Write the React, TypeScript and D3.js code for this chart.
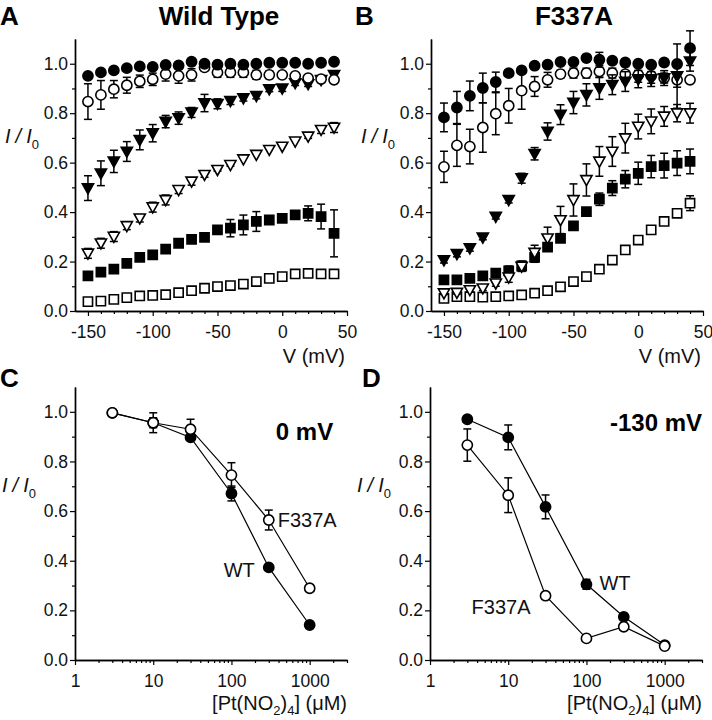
import React, { useEffect, useRef } from 'react'
import * as d3 from 'd3'

const FONT = "'Liberation Sans', Arial, Helvetica, sans-serif"

// membrane potentials (mV) for panels A and B
const voltages = [-150, -140, -130, -120, -110, -100, -90, -80, -70, -60, -50, -40, -30, -20, -10, 0, 10, 20, 30, 40]

// Panel A, wild type
const wtFilledCircle = [0.951, 0.965, 0.973, 0.982, 0.989, 0.987, 0.995, 0.993, 1.008, 1.0, 0.996, 1.0, 0.996, 1.0, 1.004, 1.004, 1.004, 1.0, 1.004, 1.008]
const wtFilledCircleErr = [0.008, 0.008, 0.008, 0.008, 0.008, 0.008, 0.008, 0.008, 0.01, 0.008, 0.006, 0.006, 0.006, 0.006, 0.006, 0.006, 0.006, 0.006, 0.006, 0.006]
const wtOpenCircle = [0.847, 0.874, 0.897, 0.913, 0.929, 0.937, 0.958, 0.951, 0.955, 0.985, 0.965, 0.965, 0.965, 0.955, 0.955, 0.955, 0.951, 0.942, 0.938, 0.935]
const wtOpenCircleErr = [0.072, 0.058, 0.035, 0.032, 0.025, 0.025, 0.028, 0.03, 0.025, 0.012, 0.02, 0.02, 0.02, 0.018, 0.015, 0.012, 0.012, 0.01, 0.01, 0.01]
const wtFilledTri = [0.497, 0.557, 0.605, 0.645, 0.692, 0.719, 0.766, 0.78, 0.803, 0.841, 0.838, 0.85, 0.861, 0.87, 0.897, 0.9, 0.922, 0.918, 0.935, 0.955]
const wtFilledTriErr = [0.05, 0.05, 0.045, 0.04, 0.04, 0.035, 0.025, 0.025, 0.02, 0.035, 0.02, 0.015, 0.012, 0.012, 0.01, 0.012, 0.01, 0.01, 0.01, 0.012]
const wtOpenTri = [0.233, 0.274, 0.301, 0.344, 0.375, 0.42, 0.449, 0.49, 0.524, 0.551, 0.571, 0.591, 0.614, 0.632, 0.652, 0.665, 0.686, 0.706, 0.733, 0.742]
const wtOpenTriErr = [0.02, 0.02, 0.02, 0.015, 0.015, 0.02, 0.02, 0.015, 0.015, 0.01, 0.005, 0.005, 0, 0, 0, 0, 0, 0.008, 0.015, 0.02]
const wtFilledSq = [0.142, 0.157, 0.169, 0.193, 0.217, 0.227, 0.25, 0.274, 0.29, 0.298, 0.328, 0.335, 0.348, 0.362, 0.368, 0.375, 0.389, 0.395, 0.382, 0.314]
const wtFilledSqErr = [0, 0, 0, 0, 0, 0, 0, 0, 0, 0, 0, 0.035, 0.04, 0.04, 0, 0, 0, 0.03, 0.05, 0.095]
const wtOpenSq = [0.038, 0.04, 0.047, 0.054, 0.061, 0.063, 0.066, 0.074, 0.082, 0.092, 0.099, 0.103, 0.109, 0.119, 0.132, 0.139, 0.15, 0.152, 0.15, 0.15]
const wtOpenSqErr = [0, 0, 0, 0, 0, 0, 0, 0, 0, 0, 0, 0, 0, 0, 0, 0, 0, 0, 0, 0]

// Panel B, F337A
const mutFilledCircle = [0.783, 0.823, 0.87, 0.902, 0.926, 0.962, 0.973, 0.992, 0.996, 1.007, 1.007, 1.023, 1.016, 1.012, 1.005, 1.0, 0.996, 1.005, 0.999, 1.063]
const mutFilledCircleErr = [0.058, 0.065, 0.06, 0.06, 0.04, 0.012, 0.012, 0.008, 0.008, 0.008, 0.008, 0.012, 0.03, 0.012, 0.008, 0.008, 0.008, 0.008, 0.008, 0.07]
const mutOpenCircle = [0.583, 0.67, 0.665, 0.742, 0.798, 0.83, 0.891, 0.908, 0.935, 0.958, 0.962, 0.962, 0.969, 0.962, 0.958, 0.955, 0.951, 0.942, 0.935, 0.935]
const mutOpenCircleErr = [0.063, 0.085, 0.07, 0.1, 0.085, 0.07, 0.075, 0.04, 0.03, 0.015, 0.02, 0.02, 0.025, 0.02, 0.03, 0.03, 0.03, 0.03, 0.03, 0.01]
const mutFilledTri = [0.206, 0.231, 0.254, 0.298, 0.382, 0.449, 0.537, 0.636, 0.726, 0.794, 0.843, 0.874, 0.901, 0.915, 0.928, 0.938, 0.938, 0.942, 0.95, 1.01]
const mutFilledTriErr = [0.012, 0.012, 0.012, 0.01, 0.01, 0.012, 0.02, 0.025, 0.035, 0.04, 0.045, 0.045, 0.045, 0.04, 0.04, 0.035, 0.03, 0.02, 0.13, 0.04]
const mutOpenTri = [0.072, 0.074, 0.085, 0.092, 0.112, 0.136, 0.18, 0.236, 0.294, 0.368, 0.449, 0.53, 0.605, 0.645, 0.699, 0.746, 0.767, 0.787, 0.8, 0.8]
const mutOpenTriErr = [0.005, 0.005, 0.008, 0.01, 0.012, 0.02, 0.02, 0.03, 0.045, 0.055, 0.065, 0.065, 0.06, 0.06, 0.06, 0.05, 0.05, 0.04, 0.035, 0.04]
const mutFilledSq = [0.126, 0.126, 0.132, 0.142, 0.153, 0.162, 0.182, 0.217, 0.258, 0.294, 0.344, 0.402, 0.452, 0.497, 0.533, 0.557, 0.584, 0.588, 0.598, 0.605]
const mutFilledSqErr = [0, 0, 0, 0, 0.015, 0.02, 0.02, 0.02, 0.015, 0.008, 0.008, 0.015, 0.025, 0.03, 0.035, 0.045, 0.045, 0.05, 0.05, 0.05]
const mutOpenSq = [0.051, 0.058, 0.058, 0.056, 0.058, 0.061, 0.065, 0.072, 0.082, 0.098, 0.119, 0.139, 0.169, 0.206, 0.247, 0.287, 0.328, 0.362, 0.395, 0.436]
const mutOpenSqErr = [0, 0, 0, 0, 0, 0, 0, 0, 0, 0, 0, 0, 0, 0, 0, 0, 0, 0, 0, 0.03]

// Panels C and D: [Pt(NO2)4] in uM
const doses = [3, 10, 30, 100, 300, 1000]
const wt0mV = [0.996, 0.956, 0.897, 0.671, 0.373, 0.141]
const wt0mVErr = [0.01, 0.02, 0.01, 0.03, 0.01, 0.01]
const mut0mV = [0.996, 0.956, 0.93, 0.745, 0.564, 0.289]
const mut0mVErr = [0.01, 0.04, 0.04, 0.05, 0.04, 0.01]
const wt130mV = [0.97, 0.897, 0.617, 0.305, 0.174, 0.06]
const wt130mVErr = [0.01, 0.05, 0.048, 0.02, 0.01, 0.01]
const mut130mV = [0.866, 0.664, 0.259, 0.087, 0.134, 0.056]
const mut130mVErr = [0.065, 0.07, 0.01, 0.01, 0.01, 0.01]

type Shape = 'circle' | 'square' | 'triangle'
type Series = { values: number[]; errors: number[]; shape: Shape; filled: boolean }

const circlePath = d3.symbol(d3.symbolCircle, Math.PI * 26)()
const squarePath = d3.symbol(d3.symbolSquare, 84)()
const trianglePath = 'M-5.6,-4.3L5.6,-4.3L0,5.7Z'
const shapePath = (s: Shape) => (s === 'circle' ? circlePath : s === 'square' ? squarePath : trianglePath)

const yTicks = [0, 0.2, 0.4, 0.6, 0.8, 1.0]
const yMinor = [0.1, 0.3, 0.5, 0.7, 0.9]
const vTicks = [-150, -100, -50, 0, 50]
const vMinor = d3.range(-140, 50, 10).filter(v => v % 50 !== 0)
const logTicks = [1, 10, 100, 1000]
const logMinor = [1, 10, 100].flatMap(d => d3.range(2, 10).map(m => m * d)).concat([2000, 3000])

// plain hyphen for negatives, as in the figure
const intFmt = (d: any) => String(d)

function styleAxis(g: any) {
  g.select('.domain').attr('stroke', '#000').attr('stroke-width', 1.4)
  g.selectAll('.tick line').attr('stroke', '#000').attr('stroke-width', 1.2)
  g.selectAll('.tick text').attr('font-family', FONT).attr('font-size', 17.5).attr('fill', '#111')
}

function Frame({ x, y, major, minor, fmt }: any) {
  const gx = useRef<SVGGElement>(null)
  const gy = useRef<SVGGElement>(null)
  useEffect(() => {
    const ax = d3.select(gx.current)
    ax.selectAll('*').remove()
    ax.append('g').call(d3.axisBottom(x).tickValues(minor).tickSize(3).tickSizeOuter(0).tickFormat(() => '')).call(styleAxis)
    ax.append('g').call(d3.axisBottom(x).tickValues(major).tickSize(5).tickPadding(10).tickSizeOuter(0).tickFormat(fmt)).call(styleAxis)
    const ay = d3.select(gy.current)
    ay.selectAll('*').remove()
    ay.append('g').call(d3.axisLeft(y).tickValues(yMinor).tickSize(3).tickSizeOuter(0).tickFormat(() => '')).call(styleAxis)
    ay.append('g').call(d3.axisLeft(y).tickValues(yTicks).tickSize(5).tickPadding(2).tickSizeOuter(0).tickFormat(d3.format('.1f'))).call(styleAxis)
  }, [x, y])
  return (
    <>
      <g ref={gx} transform={`translate(0,${y.range()[0]})`} />
      <g ref={gy} transform={`translate(${x.range()[0]},0)`} />
    </>
  )
}

function Points({ xs, s, x, y }: { xs: number[]; s: Series; x: any; y: any }) {
  return (
    <g>
      {xs.map((v, i) => s.errors[i] > 0 && (
        <g key={'e' + i} stroke="#000" strokeWidth={1.5}>
          <line x1={x(v)} x2={x(v)} y1={y(s.values[i] - s.errors[i])} y2={y(s.values[i] + s.errors[i])} />
          <line x1={x(v) - 4} x2={x(v) + 4} y1={y(s.values[i] + s.errors[i])} y2={y(s.values[i] + s.errors[i])} />
          <line x1={x(v) - 4} x2={x(v) + 4} y1={y(s.values[i] - s.errors[i])} y2={y(s.values[i] - s.errors[i])} />
        </g>
      ))}
      {xs.map((v, i) => (
        <path key={'m' + i} d={shapePath(s.shape)} transform={`translate(${x(v)},${y(s.values[i])})`}
          fill={s.filled ? '#000' : '#fff'} stroke="#000" strokeWidth={1.6} />
      ))}
    </g>
  )
}

function YLabel({ x, y }: { x: number; y: number }) {
  return (
    <text x={x} y={y} fontFamily={FONT} fontSize={20} fontStyle="italic" fill="#111">
      I<tspan dx={5}>/</tspan><tspan dx={5}>I</tspan><tspan dy={6} fontSize={13} fontStyle="normal">0</tspan>
    </text>
  )
}

function VoltagePanel({ left, series }: { left: number; series: Series[] }) {
  const x = d3.scaleLinear().domain([-160, 50]).range([left, left + 272])
  const y = d3.scaleLinear().domain([0, 1.1]).range([311, 39])
  return (
    <g>
      <Frame x={x} y={y} major={vTicks} minor={vMinor} fmt={intFmt} />
      {series.map((s, i) => <Points key={i} xs={voltages} s={s} x={x} y={y} />)}
      <YLabel x={left - 70} y={y(0.7) + 5} />
      <text x={left + 270} y={363} textAnchor="end" fontFamily={FONT} fontSize={20} fill="#111">V (mV)</text>
    </g>
  )
}

function DosePanel({ left, wt, wtErr, mut, mutErr, children }: any) {
  const x = d3.scaleLog().domain([1, 3000]).range([left, left + 272])
  const y = d3.scaleLinear().domain([0, 1.1]).range([660, 387])
  const line = d3.line<number>().x((d, i) => x(doses[i])).y(d => y(d))
  return (
    <g>
      <Frame x={x} y={y} major={logTicks} minor={logMinor} fmt={intFmt} />
      <path d={line(wt) || ''} fill="none" stroke="#000" strokeWidth={1.2} />
      <path d={line(mut) || ''} fill="none" stroke="#000" strokeWidth={1.2} />
      <Points xs={doses} s={{ values: wt, errors: wtErr, shape: 'circle', filled: true }} x={x} y={y} />
      <Points xs={doses} s={{ values: mut, errors: mutErr, shape: 'circle', filled: false }} x={x} y={y} />
      <YLabel x={left - 73} y={y(0.7) + 6} />
      <text x={left + 272} y={710} textAnchor="end" fontFamily={FONT} fontSize={20} fill="#111">
        [Pt(NO<tspan dy={5} fontSize={13}>2</tspan><tspan dy={-5}>)</tspan><tspan dy={5} fontSize={13}>4</tspan><tspan dy={-5}>] (μM)</tspan>
      </text>
      {children(x, y)}
    </g>
  )
}

export default function App() {
  const wtSeries: Series[] = [
    { values: wtOpenSq, errors: wtOpenSqErr, shape: 'square', filled: false },
    { values: wtFilledSq, errors: wtFilledSqErr, shape: 'square', filled: true },
    { values: wtOpenTri, errors: wtOpenTriErr, shape: 'triangle', filled: false },
    { values: wtFilledTri, errors: wtFilledTriErr, shape: 'triangle', filled: true },
    { values: wtOpenCircle, errors: wtOpenCircleErr, shape: 'circle', filled: false },
    { values: wtFilledCircle, errors: wtFilledCircleErr, shape: 'circle', filled: true },
  ]
  const mutSeries: Series[] = [
    { values: mutOpenSq, errors: mutOpenSqErr, shape: 'square', filled: false },
    { values: mutFilledSq, errors: mutFilledSqErr, shape: 'square', filled: true },
    { values: mutOpenTri, errors: mutOpenTriErr, shape: 'triangle', filled: false },
    { values: mutOpenCircle, errors: mutOpenCircleErr, shape: 'circle', filled: false },
    { values: mutFilledTri, errors: mutFilledTriErr, shape: 'triangle', filled: true },
    { values: mutFilledCircle, errors: mutFilledCircleErr, shape: 'circle', filled: true },
  ]
  const bold = { fontFamily: FONT, fontWeight: 700, fill: '#000' }
  const plain = { fontFamily: FONT, fontSize: 20, fill: '#111' }
  return (
    <div style={{ position: 'absolute', left: 0, top: 0 }}>
      <svg width={712} height={720} style={{ display: 'block', background: '#fff' }}>
        <text x={0} y={25} fontSize={26} {...bold}>A</text>
        <text x={219} y={25} fontSize={26} textAnchor="middle" {...bold}>Wild Type</text>
        <text x={355} y={25} fontSize={26} {...bold}>B</text>
        <text x={574} y={25} fontSize={26} textAnchor="middle" {...bold}>F337A</text>
        <text x={0} y={387} fontSize={26} {...bold}>C</text>
        <text x={362} y={387} fontSize={26} {...bold}>D</text>

        <VoltagePanel left={75} series={wtSeries} />
        <VoltagePanel left={431} series={mutSeries} />

        <DosePanel left={75} wt={wt0mV} wtErr={wt0mVErr} mut={mut0mV} mutErr={mut0mVErr}>
          {(x: any, y: any) => (
            <g>
              <text x={x(2000)} y={y(0.92) + 8} textAnchor="end" fontSize={24} {...bold}>0 mV</text>
              <text x={x(300) + 9} y={y(0.564) + 7} {...plain}>F337A</text>
              <text x={x(300) - 14} y={y(0.363) + 7} textAnchor="end" {...plain}>WT</text>
            </g>
          )}
        </DosePanel>
        <DosePanel left={430} wt={wt130mV} wtErr={wt130mVErr} mut={mut130mV} mutErr={mut130mVErr}>
          {(x: any, y: any) => (
            <g>
              <text x={x(3000)} y={y(0.955) + 8} textAnchor="end" fontSize={24} {...bold}>-130 mV</text>
              <text x={x(100) + 13} y={y(0.31) + 7} {...plain}>WT</text>
              <text x={x(30) - 15} y={y(0.214) + 7} textAnchor="end" {...plain}>F337A</text>
            </g>
          )}
        </DosePanel>
      </svg>
    </div>
  )
}
